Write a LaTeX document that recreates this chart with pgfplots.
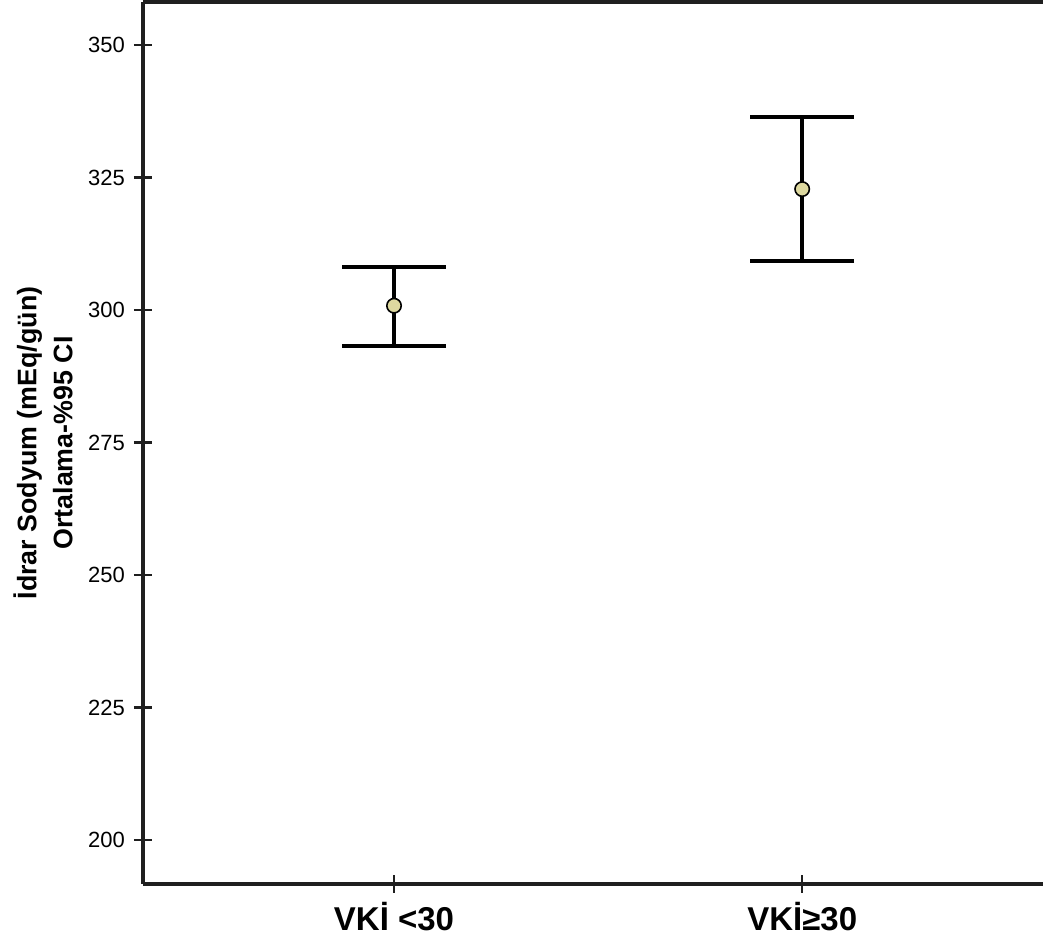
\documentclass[border=0pt]{standalone}
\usepackage{pgfplots}
\pgfplotsset{compat=1.18}
\usepackage{fontspec}
\setmainfont{Liberation Sans}
\definecolor{axcol}{rgb}{0.12,0.12,0.12}
\definecolor{markfill}{RGB}{222,217,160}
\begin{document}
\begin{tikzpicture}
\begin{axis}[
  scale only axis,
  width=450pt, height=441pt,
  xmin=-0.615, xmax=1.59,
  ymin=191.7, ymax=358.1,
  axis x line*=bottom,
  axis y line*=left,
  axis line style={line width=1.6pt, color=axcol, -},
  xtick={0,1},
  xticklabels={VKİ <30, VKİ≥30},
  ytick={200,225,250,275,300,325,350},
  tick align=center,
  major tick length=9pt,
  tick style={line width=1.2pt, color=axcol},
  yticklabel style={font=\fontsize{11}{13}\selectfont, xshift=-1pt},
  xticklabel style={font=\bfseries\fontsize{16.5}{18}\selectfont, yshift=-1pt},
  /pgf/number format/assume math mode=true,
  ylabel={İdrar Sodyum (mEq/gün)\\Ortalama-\%95 CI},
  ylabel style={font=\bfseries\fontsize{13.4}{18}\selectfont, align=center,
    at={(axis description cs:-0.111,0.5)}, anchor=center},
  clip=false,
]
\addplot[only marks, mark=*, mark size=3.6pt,
  mark options={fill=markfill, draw=black, line width=0.8pt},
  error bars/.cd, y dir=both, y explicit,
  error mark options={line width=2pt, mark size=26pt, black, rotate=90},
  error bar style={line width=2pt, black}]
  coordinates {
    (0,300.8) +=(0,7.3) -=(0,7.6)
    (1,322.8) +=(0,13.6) -=(0,13.6)
  };
\draw[line width=1.6pt, color=axcol] (rel axis cs:0,1) -- (rel axis cs:1,1);
\end{axis}
\pgfresetboundingbox
\path[use as bounding box] (-71.5pt,-25.5pt) rectangle (450pt,442pt);
\end{tikzpicture}
\end{document}
